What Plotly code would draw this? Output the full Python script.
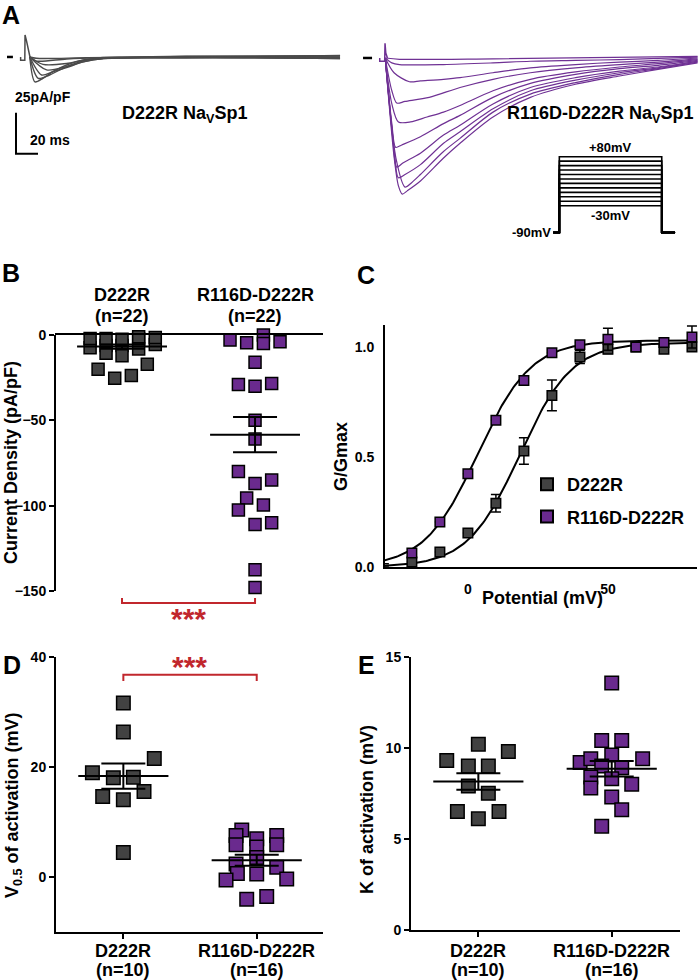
import numpy as np
import plotly.graph_objects as go

W, H = 699, 980
FONT = "Liberation Sans, Arial, sans-serif"
GREY_FILL = "#424242"
PURPLE_FILL = "#6a2a8e"
PURPLE_LINE = "#6f3194"
GREY_LINE = "#4a4a4a"
RED = "#c1272d"

groups = ["D222R", "R116D-D222R"]
n_b = [22, 22]
n_de = [10, 16]

# ---- A: example current traces, time (ms) and current density (pA/pF)
grey_t = [
    [8, 12.7, 20, 29, 41.5, 56.6, 72, 150, 290],
    [8, 15.7, 26, 41.5, 56.6, 75, 150, 290],
    [8, 18.8, 29, 41.5, 56.6, 75, 150, 290],
    [8, 23.3, 41.5, 56.6, 75, 150, 290],
    [8, 20, 41.5, 56.6, 75, 150, 290],
    [8, 14, 41.5, 75, 150, 290],
    [8, 14, 60, 150, 290],
]
grey_i = [
    [0, -15.2, -13, -9, -4.9, -1.8, -0.4, -0.5, 1],
    [0, -13, -11, -5.9, -2.4, -0.8, 0, 0.5],
    [0, -11, -9, -6.5, -3, -1, -0.3, -1],
    [0, -7.9, -5.9, -3, -1, 0.3, 0],
    [0, -4.5, -4, -2, -0.8, -0.5, -0.5],
    [0, -2.5, -1.2, -0.4, 0.5, 0.8],
    [0, -0.8, -0.5, 0, -1],
]
grey_artifact_t = [-0.3, -0.3, 3.5, 3.7, 5, 8.2]
grey_artifact_i = [0, -2, -2, 13.4, 10, 0]

purple_t = [
    [2, 10, 14, 17.5, 22, 34, 55, 70, 100, 134, 175, 215, 250, 286],
    [2, 12, 20, 26, 34, 55, 70, 100, 134, 175, 215, 250, 286],
    [2, 10, 14, 20, 34, 55, 70, 100, 134, 175, 215, 250, 286],
    [2, 9, 12.5, 18, 34, 55, 70, 100, 134, 175, 215, 250, 286],
    [2, 8, 11.5, 17, 34, 55, 70, 100, 134, 175, 215, 250, 286],
    [2, 8, 14, 25, 40, 55, 70, 100, 134, 175, 215, 250, 286],
    [2, 8, 12.5, 20, 42, 70, 100, 134, 175, 215, 250, 286],
    [2, 10, 24, 34, 55, 70, 100, 134, 175, 215, 250, 286],
    [2, 8, 15, 55, 100, 134, 175, 215, 286],
    [2, 15, 100, 286],
]
purple_i = [
    [0, -60, -78, -83, -81, -75, -61, -52, -36, -24, -16, -11, -7, -3],
    [0, -62, -78.7, -76, -71, -57, -49, -33, -22, -15, -10, -6.5, -2.5],
    [0, -55, -73, -71, -65, -52, -45, -31, -20, -13.5, -9, -6, -2],
    [0, -50, -66.5, -64, -58, -47, -41, -28, -18, -12, -8, -5.5, -2],
    [0, -40, -54.5, -53, -48, -40, -35, -24, -15.5, -10, -6.5, -4.5, -1.5],
    [0, -28, -39, -39, -36, -33, -29, -20, -13, -8.5, -5.5, -3.5, -1],
    [0, -20, -27.5, -26.5, -24, -18, -13, -9, -6, -4, -2.5, -0.5],
    [0, -9, -14.5, -14, -13, -12, -9, -6, -4, -2.5, -1.5, 0],
    [0, -3, -4, -4, -3, -2, -1.5, -1, 0.5],
    [0, -0.8, -0.5, 1],
]
purple_artifact_t = [-3, -3, 1.5, 1.8, 2.5, 4]
purple_artifact_i = [0, -2, -2, 9, 3, 0]

scale_ms = 20
scale_current = 25

# voltage protocol (mV)
hold_mv = -90
step_mv = [-30, -20, -10, 0, 10, 20, 30, 40, 50, 60, 70, 80]

# ---- B: peak current density (pA/pF)
b_grey = [0.4, -7.4, -2, 0.4, -6.2, -10.7, -2, 0.4, -6.2, -12.1, -2.5,
          1, -2.3, -8.2, -1, 0.4, -5.5, -1.5, -20.1, -25.4, -23.8, -17.2]
b_grey_jit = [-0.24, -0.24, -0.24, -0.12, -0.12, -0.12, -0.12, 0, 0, 0, 0,
              0.125, 0.125, 0.125, 0.125, 0.25, 0.25, 0.25, -0.18, -0.055, 0.07, 0.19]
b_purple = [-3, 0.6, -4.5, 0, -5, -4, -16, -29, -30, -28.4, -50, -61,
            -80, -87, -85, -95.5, -102.5, -99.6, -111, -110, -137.6, -148]
b_purple_jit = [-0.188, -0.063, -0.063, 0.063, 0.063, 0.188, 0, -0.125, 0, 0.125, 0, 0,
                -0.125, 0, 0.125, -0.063, -0.125, 0.063, 0, 0.125, 0, 0]
b_mean = [-6.8, -58.4]
b_sem = [1.3, 10.3]

# ---- C: conductance-voltage
c_mv = [-30, -20, -10, 0, 10, 20, 30, 40, 50, 60, 70, 80]
c_grey = [0.0, 0.023, 0.068, 0.155, 0.29, 0.527, 0.78, 0.955, 0.99, 1.0, 0.99, 1.0]
c_grey_err = [0, 0, 0, 0, 0.04, 0.06, 0.07, 0.03, 0.02, 0, 0.01, 0.01]
c_purple = [0.015, 0.064, 0.205, 0.424, 0.667, 0.848, 0.974, 1.01, 1.035, 1.0, 1.02, 1.045]
c_purple_err = [0, 0, 0, 0, 0, 0, 0, 0.01, 0.05, 0, 0.01, 0.05]
fit_vhalf = [18.5, 3.5]
fit_k = [9.3, 9.5]
fit_gmax = [1.02, 1.03]

# ---- D: V0.5 of activation (mV)
d_grey = [31.6, 26.3, 21.5, 18.9, 18.0, 18.1, 14.6, 14.0, 15.5, 4.4]
d_grey_jit = [0, 0, 0.232, -0.232, -0.075, 0.075, -0.155, 0, 0.155, 0]
d_purple = [8.5, 7.5, 5.8, 6.9, 5.4, 3.5, 7.5, 5.8, 2.3, 0.6, 0.5, 1.7, -0.6, -0.4, -4.1, -3.6]
d_purple_jit = [-0.112, -0.155, -0.155, 0, 0, 0, 0.15, 0.15, -0.155, -0.145, 0, 0.15,
                -0.23, 0.225, -0.075, 0.075]
d_mean = [18.3, 3.0]
d_sem = [2.3, 1.0]

# ---- E: slope factor k (mV)
e_grey = [9.3, 10.2, 9.8, 9.0, 9.0, 7.9, 7.5, 6.5, 6.1, 6.5]
e_grey_jit = [-0.237, 0, 0.225, -0.075, 0.075, -0.075, 0.075, -0.157, 0, 0.155]
e_purple = [13.55, 10.4, 10.4, 9.4, 9.2, 9.4, 9.6, 9.0, 8.9, 8.4, 8.3, 8.0, 7.8, 7.3, 6.6, 5.7]
e_purple_jit = [0, -0.075, 0.075, 0.232, -0.237, -0.157, 0, -0.075, 0.075, -0.157, 0, 0.15,
                -0.157, 0, 0.075, -0.075]
e_mean = [8.15, 8.85]
e_sem = [0.45, 0.42]


def px_x(a, b):
    return [a / W, b / W]


def px_y(top, bottom):
    return [1 - bottom / H, 1 - top / H]


def bold(size, color="black"):
    return dict(family=FONT, size=size, color=color, weight="bold")


def label(text, x, y, size=18, angle=0, color="black"):
    return dict(text=text, x=x / W, y=1 - y / H, xref="paper", yref="paper",
                xanchor="center", yanchor="middle", showarrow=False, textangle=angle,
                font=bold(size, color))


fig = go.Figure()

# A - left traces
for t, i in zip(grey_t, grey_i):
    fig.add_trace(go.Scatter(x=t, y=i, mode="lines", line=dict(color=GREY_LINE, width=1.4, shape="spline", smoothing=0.8),
                             xaxis="x", yaxis="y", showlegend=False, hoverinfo="skip"))
fig.add_trace(go.Scatter(x=grey_artifact_t, y=grey_artifact_i, mode="lines", line=dict(color=GREY_LINE, width=1.5),
                         xaxis="x", yaxis="y", showlegend=False))
fig.add_trace(go.Scatter(x=[-12.7, -7.3], y=[0, 0], mode="lines", line=dict(color="black", width=2.5),
                         xaxis="x", yaxis="y", showlegend=False))
# scale bar
fig.add_trace(go.Scatter(x=[-4.5, -4.5, -4.5 + scale_ms], y=[-59.1 + scale_current, -59.1, -59.1],
                         mode="lines", line=dict(color="black", width=2), xaxis="x", yaxis="y", showlegend=False))

# A - right traces
for t, i in zip(purple_t, purple_i):
    fig.add_trace(go.Scatter(x=t, y=i, mode="lines", line=dict(color=PURPLE_LINE, width=1.2, shape="spline", smoothing=0.8),
                             xaxis="x2", yaxis="y2", showlegend=False, hoverinfo="skip"))
fig.add_trace(go.Scatter(x=purple_artifact_t, y=purple_artifact_i, mode="lines", line=dict(color=PURPLE_LINE, width=1.5),
                         xaxis="x2", yaxis="y2", showlegend=False))
fig.add_trace(go.Scatter(x=[-18.2, -10], y=[0, 0], mode="lines", line=dict(color="black", width=2.5),
                         xaxis="x2", yaxis="y2", showlegend=False))

# protocol
for v in step_mv:
    fig.add_trace(go.Scatter(x=[-6, 0, 0, 100, 100, 113], y=[hold_mv, hold_mv, v, v, hold_mv, hold_mv],
                             mode="lines", line=dict(color="black", width=1.6), xaxis="x3", yaxis="y3", showlegend=False))


def dots(xa, ya, vals, jit, fill, size, gi):
    fig.add_trace(go.Scatter(x=[gi + j for j in jit], y=vals, mode="markers", cliponaxis=False,
                             marker=dict(symbol="square", size=size, color=fill, line=dict(color="black", width=1.5)),
                             xaxis=xa, yaxis=ya, showlegend=False))


def mean_sem(xa, ya, mean, sem):
    for gi in range(2):
        fig.add_trace(go.Scatter(x=[gi - 0.338, gi + 0.338], y=[mean[gi], mean[gi]], mode="lines",
                                 line=dict(color="black", width=2), xaxis=xa, yaxis=ya, showlegend=False))
        fig.add_trace(go.Scatter(x=[gi], y=[mean[gi]], mode="markers", marker=dict(size=1, color="rgba(0,0,0,0)"),
                                 error_y=dict(type="data", array=[sem[gi]], width=22, thickness=2, color="black"),
                                 xaxis=xa, yaxis=ya, showlegend=False))


# B
dots("x4", "y4", b_grey, b_grey_jit, GREY_FILL, 12, 0)
dots("x4", "y4", b_purple, b_purple_jit, PURPLE_FILL, 12, 1)
mean_sem("x4", "y4", b_mean, b_sem)
fig.add_trace(go.Scatter(x=[0, 0, 1, 1], y=[-154.1, -157, -157, -154.1], mode="lines",
                         line=dict(color=RED, width=2), xaxis="x4", yaxis="y4", showlegend=False))

# C
vfit = np.linspace(-30, 82, 200)
for k in range(2):
    gfit = fit_gmax[k] / (1 + np.exp((fit_vhalf[k] - vfit) / fit_k[k]))
    fig.add_trace(go.Scatter(x=vfit, y=gfit, mode="lines", line=dict(color="black", width=2),
                             xaxis="x5", yaxis="y5", showlegend=False))
fig.add_trace(go.Scatter(x=c_mv, y=c_grey, mode="markers", name=groups[0], legendgroup="a", cliponaxis=False,
                         marker=dict(symbol="square", size=9.5, color=GREY_FILL, line=dict(color="black", width=1.5)),
                         error_y=dict(type="data", array=c_grey_err, width=5, thickness=1.5, color="black"),
                         xaxis="x5", yaxis="y5"))
fig.add_trace(go.Scatter(x=c_mv, y=c_purple, mode="markers", name=groups[1], legendgroup="b", cliponaxis=False,
                         marker=dict(symbol="square", size=9.5, color=PURPLE_FILL, line=dict(color="black", width=1.5)),
                         error_y=dict(type="data", array=c_purple_err, width=5, thickness=1.5, color="black"),
                         xaxis="x5", yaxis="y5"))

# D
dots("x6", "y6", d_grey, d_grey_jit, GREY_FILL, 13.5, 0)
dots("x6", "y6", d_purple, d_purple_jit, PURPLE_FILL, 13.5, 1)
mean_sem("x6", "y6", d_mean, d_sem)
fig.add_trace(go.Scatter(x=[0, 0, 1, 1], y=[35.6, 36.7, 36.7, 35.6], mode="lines",
                         line=dict(color=RED, width=2), xaxis="x6", yaxis="y6", showlegend=False))

# E
dots("x7", "y7", e_grey, e_grey_jit, GREY_FILL, 13.5, 0)
dots("x7", "y7", e_purple, e_purple_jit, PURPLE_FILL, 13.5, 1)
mean_sem("x7", "y7", e_mean, e_sem)

hidden = dict(visible=False, showgrid=False, zeroline=False, automargin=False)
base = dict(showgrid=False, zeroline=False, showline=True, linecolor="black", linewidth=2, automargin=False,
            tickcolor="black", tickwidth=2, tickfont=bold(14))

fig.update_layout(
    template="none",
    width=W, height=H, margin=dict(l=0, r=0, t=0, b=0, pad=0, autoexpand=False),
    paper_bgcolor="white", plot_bgcolor="rgba(0,0,0,0)",
    font=bold(14),
    xaxis=dict(hidden, domain=px_x(5, 345), range=[-14.5, 294.5], anchor="y"),
    yaxis=dict(hidden, domain=px_y(25, 165), range=[-65.9, 19.5], anchor="x"),
    xaxis2=dict(hidden, domain=px_x(355, 699), range=[-25.5, 287.3], anchor="y2"),
    yaxis2=dict(hidden, domain=px_y(25, 235), range=[-107.9, 20.1], anchor="x2"),
    xaxis3=dict(hidden, domain=px_x(545, 690), range=[-14, 127.6], anchor="y3"),
    yaxis3=dict(hidden, domain=px_y(150, 240), range=[-107, 95], anchor="x3"),
    xaxis4=dict(base, domain=px_x(55, 323), range=[-0.504, 1.511], anchor="y4", side="top",
                showticklabels=False, ticks=""),
    yaxis4=dict(base, domain=px_y(335, 611.5), range=[-162, 0], anchor="x4", showline=False,
                tickvals=[0, -50, -100, -150], ticks="outside", ticklen=5),
    xaxis5=dict(base, domain=px_x(385, 697), range=[-29.6, 81.8], anchor="y5",
                tickvals=[0, 50], ticks="outside", ticklen=8, tickcolor="rgba(0,0,0,0)"),
    yaxis5=dict(base, domain=px_y(325, 567), range=[0, 1.1], anchor="x5",
                tickvals=[0, 0.5, 1.0], tickformat=".1f", ticks="outside", ticklen=6, tickcolor="rgba(0,0,0,0)"),
    xaxis6=dict(base, domain=px_x(56, 323), range=[-0.505, 1.497], anchor="y6",
                tickvals=[0, 1], showticklabels=False, ticks="outside", ticklen=5),
    yaxis6=dict(base, domain=px_y(656.7, 931.7), range=[-10, 40], anchor="x6",
                tickvals=[0, 20, 40], ticks="outside", ticklen=5),
    xaxis7=dict(base, domain=px_x(411, 680), range=[-0.505, 1.512], anchor="y7",
                tickvals=[0, 1], showticklabels=False, ticks="outside", ticklen=5),
    yaxis7=dict(base, domain=px_y(656.7, 930), range=[0, 15], anchor="x7",
                tickvals=[0, 5, 10, 15], ticks="outside", ticklen=5),
    legend=dict(x=527 / W, y=1 - 466 / H, xanchor="left", yanchor="top", bgcolor="rgba(0,0,0,0)",
                font=bold(18), tracegroupgap=6, itemsizing="constant"),
    shapes=[dict(type="line", xref="x4 domain", yref="y4", x0=0, x1=0, y0=-150, y1=0,
                 line=dict(color="black", width=2))],
)

ann = [
    label("A", 11, 15, size=25),
    label("B", 11, 273, size=25),
    label("C", 366, 275, size=25),
    label("D", 12, 665, size=25),
    label("E", 366, 665, size=25),
    label("Current Density (pA/pF)", 11, 463, angle=-90),
    label("G/Gmax", 341, 457, angle=-90),
    label("Potential (mV)", 542, 598),
    label("V<sub>0.5</sub> of activation (mV)", 13, 805, angle=-90),
    label("K of activation (mV)", 367, 810, angle=-90),
    label("25pA/pF", 43, 97, size=14),
    label("20 ms", 50, 140, size=14),
    label("D222R Na<sub>V</sub>Sp1", 184, 115),
    label("R116D-D222R Na<sub>V</sub>Sp1", 600, 115),
    label("***", 188, 618, size=30, color=RED),
    label("***", 190, 666, size=30, color=RED),
]
# category labels placed on the category axes
for gi in range(2):
    ann.append(dict(text=groups[gi], x=gi, xref="x4", y=1 - 295 / H, yref="paper", showarrow=False,
                    xanchor="center", yanchor="middle", font=bold(18)))
    ann.append(dict(text=f"(n={n_b[gi]})", x=gi, xref="x4", y=1 - 316 / H, yref="paper", showarrow=False,
                    xanchor="center", yanchor="middle", font=bold(18)))
    for xa in ["x6", "x7"]:
        ann.append(dict(text=groups[gi], x=gi, xref=xa, y=1 - 951 / H, yref="paper", showarrow=False,
                        xanchor="center", yanchor="middle", font=bold(18)))
        ann.append(dict(text=f"(n={n_de[gi]})", x=gi, xref=xa, y=1 - 970 / H, yref="paper", showarrow=False,
                        xanchor="center", yanchor="middle", font=bold(18)))
ann += [
    dict(text="+80mV", x=50, y=step_mv[-1], xref="x3", yref="y3", xanchor="center", yanchor="bottom",
         showarrow=False, font=bold(13)),
    dict(text="-30mV", x=50, y=step_mv[0], xref="x3", yref="y3", xanchor="center", yanchor="top",
         showarrow=False, font=bold(13)),
    dict(text="-90mV", x=-6, y=hold_mv, xref="x3", yref="y3", xanchor="right", yanchor="middle",
         showarrow=False, font=bold(13)),
]
fig.update_layout(annotations=ann)

# the page body keeps its default 8px margin otherwise, which shifts the 699x980 figure
fig.write_html("out.html", config={"displayModeBar": False},
               post_script="document.body.style.margin='0px';")
